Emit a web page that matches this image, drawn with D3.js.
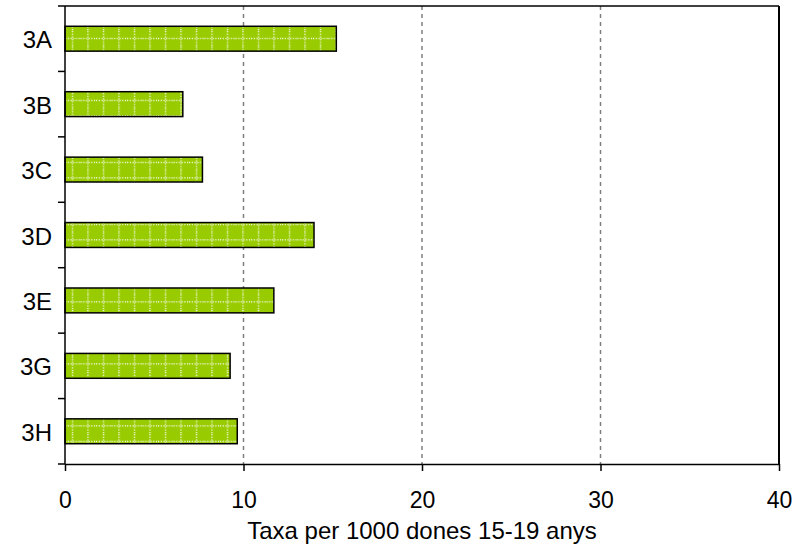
<!DOCTYPE html>
<html><head><meta charset="utf-8">
<script src="https://cdn.jsdelivr.net/npm/d3@7"></script>
<style>body{margin:0;background:#fff}svg{display:block}text{font-family:"Liberation Sans",Arial,sans-serif}</style>
</head><body><svg id="c" width="801" height="547"></svg>
<script>
const categories = ["3A","3B","3C","3D","3E","3G","3H"];
const values = [15.2, 6.6, 7.7, 13.95, 11.7, 9.25, 9.65];
const xTicks = [0,10,20,30,40];
const xTitle = "Taxa per 1000 dones 15-19 anys";

const svg = d3.select("#c");
const m = {l:65, r:779, t:6, b:464};
const x = d3.scaleLinear().domain([0,40]).range([m.l, m.r]);
const y = d3.scaleBand().domain(categories).range([m.t, m.b]).paddingInner(0.62).paddingOuter(0.31);

const defs = svg.append("defs");
const pat = defs.append("pattern").attr("id","hatch").attr("patternUnits","userSpaceOnUse")
  .attr("width",15.5).attr("height",15.5).attr("x",3).attr("y",0);
pat.append("rect").attr("width",15.5).attr("height",15.5).attr("fill","#99cc00");
pat.append("line").attr("x1",0).attr("x2",15.5).attr("y1",7.5).attr("y2",7.5)
  .attr("stroke","#fff").attr("stroke-width",1.2).attr("stroke-dasharray","1.2,1.5");
pat.append("line").attr("x1",7.5).attr("x2",7.5).attr("y1",0).attr("y2",15.5)
  .attr("stroke","#fff").attr("stroke-width",1.2).attr("stroke-dasharray","1.2,1.5");

// gridlines
svg.append("g").selectAll("line").data(xTicks.filter(d=>d>0 && d<40)).join("line")
  .attr("x1",d=>x(d)).attr("x2",d=>x(d)).attr("y1",m.t).attr("y2",m.b)
  .attr("stroke","#808080").attr("stroke-width",1.5).attr("stroke-dasharray","4,4");

// bars
svg.append("g").selectAll("rect").data(categories).join("rect")
  .attr("x",x(0)).attr("y",d=>y(d)).attr("height",y.bandwidth())
  .attr("width",(d,i)=>x(values[i])-x(0))
  .attr("fill","url(#hatch)").attr("stroke","#000").attr("stroke-width",1.5);

// frame top/right
svg.append("line").attr("x1",m.l).attr("x2",m.r).attr("y1",m.t).attr("y2",m.t).attr("stroke","#000").attr("stroke-width",1.5);
svg.append("line").attr("x1",m.r).attr("x2",m.r).attr("y1",m.t).attr("y2",m.b).attr("stroke","#000").attr("stroke-width",2);

// x axis
const xa = svg.append("g").attr("transform",`translate(0,${m.b})`)
  .call(d3.axisBottom(x).tickValues(xTicks).tickSize(7).tickPadding(0).tickSizeOuter(0));
xa.select(".domain").attr("stroke-width",1.5);
xa.selectAll(".tick line").attr("stroke-width",1.5);
xa.selectAll("text").attr("font-size",23).attr("fill","#000").attr("dy",null).attr("y",44);

// y axis
const bounds = d3.range(categories.length+1).map(i=>m.t + i*(m.b-m.t)/categories.length);
const ya = svg.append("g");
ya.append("line").attr("x1",m.l).attr("x2",m.l).attr("y1",m.t).attr("y2",m.b).attr("stroke","#000").attr("stroke-width",1.5);
ya.selectAll("line.tk").data(bounds).join("line").attr("class","tk")
  .attr("x1",m.l-7).attr("x2",m.l).attr("y1",d=>d).attr("y2",d=>d).attr("stroke","#000").attr("stroke-width",1.5);
ya.selectAll("text").data(categories).join("text")
  .attr("x",52).attr("y",d=>y(d)+y.bandwidth()/2 + 9.5)
  .attr("text-anchor","end").attr("font-size",24).text(d=>d);

svg.append("text").attr("x",(m.l+m.r)/2).attr("y",539).attr("text-anchor","middle")
  .attr("font-size",24).text(xTitle);
</script></body></html>
